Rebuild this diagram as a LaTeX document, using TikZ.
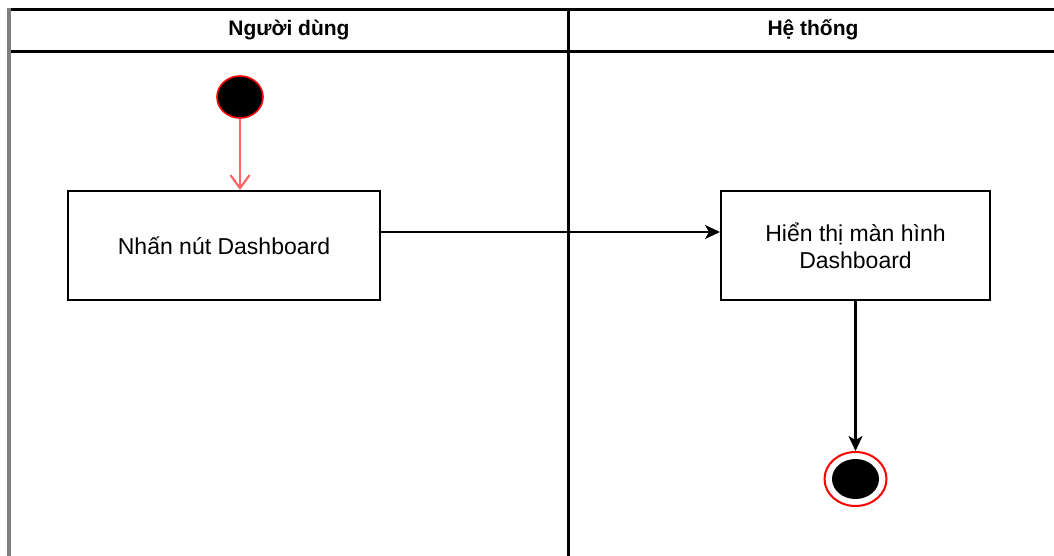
\documentclass[tikz,border=0pt]{standalone}
\usepackage{fontspec}
\setmainfont{Liberation Sans}
\usetikzlibrary{shapes.geometric,arrows.meta}
\definecolor{lanered}{HTML}{FF0000}
\definecolor{arrowred}{HTML}{FF6666}
\tikzset{
  lane/.style={line width=2.2pt, draw=black},
  actbox/.style={draw=black, line width=2pt, fill=white, minimum width=312pt, minimum height=109pt, inner sep=0pt, align=center, font=\fontsize{23}{27}\selectfont},
  actbox2/.style={actbox, minimum width=269pt},
  lanehead/.style={font=\bfseries\fontsize{21}{25}\selectfont, inner sep=0pt},
  flow/.style={line width=2.2pt, -{Stealth[length=15pt,width=14pt,inset=4pt]}},
  startflow/.style={line width=2.2pt, draw=arrowred, -{Straight Barb[length=13pt,width=19pt,line width=2.2pt]}}
}
\begin{document}
\begin{tikzpicture}[x=1pt,y=-1pt]
\clip (0,0) rectangle (1054,556);
\fill[white] (0,0) rectangle (1054,556);
% swimlanes
\draw[lane] (8,9.5) -- (1060,9.5);
\draw[lane] (8,51.5) -- (1060,51.5);
\draw[lane] (568.5,9.5) -- (568.5,560);
\draw[line width=3.5pt, draw=gray] (9,8.5) -- (9,560);
\node[lanehead] (lane1) at (289,30) {Người dùng};
\node[lanehead] (lane2) at (813,30) {Hệ thống};
% nodes
\node[ellipse, draw=lanered, line width=1.6pt, fill=black, minimum width=46pt, minimum height=42pt, inner sep=0pt] (start) at (240,97) {};
\node[actbox] (a1) at (224,245.5) {Nhấn nút Dashboard};
\node[actbox2] (a2) at (855.5,245.5) {Hiển thị màn hình\\Dashboard};
\node[ellipse, draw=lanered, line width=2pt, fill=white, minimum width=62pt, minimum height=54pt, inner sep=0pt] (end) at (855.5,479) {};
\node[ellipse, fill=black, minimum width=47pt, minimum height=40pt, inner sep=0pt] (endin) at (855.5,479) {};
% connectors
\draw[startflow] (start.south) -- (start.south |- a1.north);
\draw[flow] (a1.east |- 0,232) -- (a2.west |- 0,232);
\draw[flow] (a2.south) -- (end.north);
\end{tikzpicture}
\end{document}
